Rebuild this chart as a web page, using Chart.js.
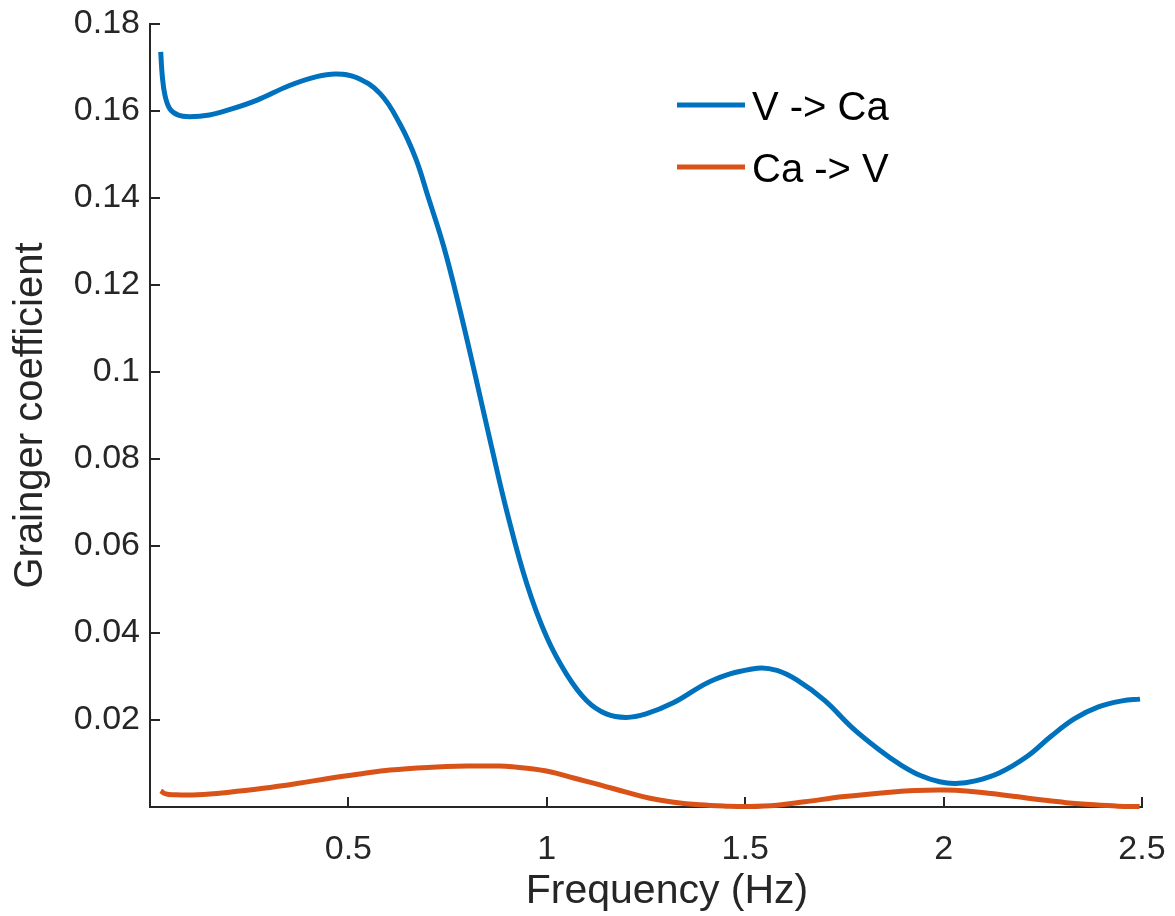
<!DOCTYPE html>
<html>
<head>
<meta charset="utf-8">
<script src="https://cdn.jsdelivr.net/npm/chart.js@4.4.1/dist/chart.umd.min.js"></script>
<style>
    html, body { margin: 0; padding: 0; background: #fff; }
    #wrap { width: 1175px; height: 916px; }
</style>
</head>
<body>
<div id="wrap"><canvas id="granger"></canvas></div>
<script>
// values
const freqVtoCa = [0.027, 0.031, 0.038, 0.05, 0.07, 0.1, 0.15, 0.2, 0.27, 0.35, 0.42, 0.47, 0.52, 0.58, 0.63, 0.67, 0.7, 0.74, 0.78, 0.82, 0.86, 0.9, 0.95, 1.0, 1.05, 1.1, 1.15, 1.2, 1.25, 1.32, 1.42, 1.53, 1.58, 1.63, 1.7, 1.77, 1.84, 1.89, 1.94, 1.99, 2.03, 2.08, 2.14, 2.21, 2.27, 2.33, 2.39, 2.45, 2.495];
const grangerVtoCa = [0.1736, 0.168, 0.1635, 0.1605, 0.1591, 0.1587, 0.1591, 0.1603, 0.1625, 0.1658, 0.1679, 0.1685, 0.1677, 0.164, 0.157, 0.149, 0.1405, 0.1289, 0.1147, 0.0991, 0.0831, 0.0677, 0.0512, 0.039, 0.0305, 0.0245, 0.0214, 0.0206, 0.0214, 0.024, 0.0292, 0.0319, 0.0314, 0.0292, 0.0245, 0.0182, 0.013, 0.0098, 0.0073, 0.0058, 0.0054, 0.006, 0.0078, 0.0116, 0.0162, 0.0203, 0.023, 0.0244, 0.0248];

const freqCatoV = [0.027, 0.04, 0.06, 0.12, 0.2, 0.285, 0.37, 0.453, 0.53, 0.605, 0.7, 0.8, 0.88, 0.95, 1.008, 1.07, 1.134, 1.2, 1.26, 1.32, 1.385, 1.45, 1.51, 1.58, 1.65, 1.75, 1.85, 1.93, 2.0, 2.057, 2.12, 2.183, 2.25, 2.309, 2.38, 2.44, 2.494];
const grangerCatoV = [0.0037, 0.003, 0.0028, 0.0028, 0.0034, 0.0043, 0.0054, 0.0066, 0.0076, 0.0085, 0.0091, 0.0094, 0.0094, 0.0089, 0.0081, 0.0066, 0.0051, 0.0034, 0.002, 0.0011, 0.0005, 0.0002, 0.0001, 0.0004, 0.0012, 0.0024, 0.0033, 0.0038, 0.0039, 0.0037, 0.0031, 0.0024, 0.0016, 0.001, 0.0005, 0.0002, 0.0001];

const seriesLabels = ["V -> Ca", "Ca -> V"];
const xTickValues = [0.5, 1, 1.5, 2, 2.5];
const yTickValues = [0.02, 0.04, 0.06, 0.08, 0.1, 0.12, 0.14, 0.16, 0.18];
const xTitle = "Frequency (Hz)";
const yTitle = "Grainger coefficient";

const FONT = '"Liberation Sans", Arial, Helvetica, sans-serif';
const AXIS_COLOR = "#262626";

function toPoints(xs, ys) {
    return xs.map((x, i) => ({ x: x, y: ys[i] }));
}

// inward tick marks like the original figure
const tickMarks = {
    id: "tickMarks",
    beforeDatasetsDraw(chart) {
        const { ctx, scales, chartArea } = chart;
        ctx.save();
        ctx.strokeStyle = AXIS_COLOR;
        ctx.lineWidth = 2;
        ctx.beginPath();
        for (const v of xTickValues) {
            const px = Math.round(scales.x.getPixelForValue(v));
            ctx.moveTo(px, chartArea.bottom);
            ctx.lineTo(px, chartArea.bottom - 10);
        }
        for (const v of yTickValues) {
            const py = Math.round(scales.y.getPixelForValue(v));
            ctx.moveTo(chartArea.left, py);
            ctx.lineTo(chartArea.left + 10, py);
        }
        ctx.stroke();

        // x axis title, sits a little right of the axes centre in the original
        ctx.fillStyle = AXIS_COLOR;
        ctx.font = "41px " + FONT;
        ctx.textAlign = "center";
        ctx.textBaseline = "alphabetic";
        ctx.fillText(xTitle, (chartArea.left + chartArea.right) / 2 + 21, 903);
        ctx.restore();
    }
};

// legend inside the axes, no frame
const insideLegend = {
    id: "insideLegend",
    afterDatasetsDraw(chart) {
        const { ctx } = chart;
        const rows = [120, 182];
        ctx.save();
        ctx.font = "40px " + FONT;
        ctx.textBaseline = "alphabetic";
        ctx.fillStyle = "#000";
        chart.data.datasets.forEach((ds, i) => {
            const y = rows[i];
            ctx.strokeStyle = ds.borderColor;
            ctx.lineWidth = 5;
            ctx.beginPath();
            ctx.moveTo(677, y - 15);
            ctx.lineTo(745, y - 15);
            ctx.stroke();
            ctx.fillText(ds.label, 752, y);
        });
        ctx.restore();
    }
};

const chart = new Chart(document.getElementById("granger"), {
    type: "line",
    data: {
        datasets: [{
            label: seriesLabels[0],
            data: toPoints(freqVtoCa, grangerVtoCa),
            borderColor: "#0072BD",
            borderWidth: 5,
            pointRadius: 0,
            tension: 0.4,
            clip: false
        }, {
            label: seriesLabels[1],
            data: toPoints(freqCatoV, grangerCatoV),
            borderColor: "#D95319",
            borderWidth: 5,
            pointRadius: 0,
            tension: 0.4,
            clip: false
        }]
    },
    options: {
        responsive: true,
        maintainAspectRatio: false,
        animation: false,
        layout: { padding: { top: 24, right: 33, left: 0, bottom: 0 } },
        plugins: {
            legend: { display: false },
            tooltip: { enabled: false }
        },
        scales: {
            x: {
                type: "linear",
                min: 0,
                max: 2.5,
                afterBuildTicks: (scale) => { scale.ticks = xTickValues.map((v) => ({ value: v })); },
                afterFit: (scale) => {
                    scale.height = 109;
                    scale.paddingLeft = 0;
                    scale.paddingRight = 0;
                },
                grid: { display: false, drawTicks: false },
                border: { display: true, color: AXIS_COLOR, width: 2 },
                ticks: {
                    color: AXIS_COLOR,
                    font: { family: FONT, size: 34 },
                    padding: 22,
                    maxRotation: 0,
                    callback: (v) => String(Number(v.toFixed(2)))
                },
                title: { display: false }
            },
            y: {
                min: 0,
                max: 0.18,
                afterBuildTicks: (scale) => { scale.ticks = yTickValues.map((v) => ({ value: v })); },
                afterFit: (scale) => {
                    scale.width = 150;
                    scale.paddingTop = 0;
                    scale.paddingBottom = 0;
                },
                grid: { display: false, drawTicks: false },
                border: { display: true, color: AXIS_COLOR, width: 2 },
                ticks: {
                    color: AXIS_COLOR,
                    font: { family: FONT, size: 34 },
                    padding: 10,
                    callback: (v) => String(Number(v.toFixed(2)))
                },
                title: {
                    display: true,
                    text: yTitle,
                    color: AXIS_COLOR,
                    font: { family: FONT, size: 40 },
                    padding: { top: 7, bottom: 0 }
                }
            }
        }
    },
    plugins: [tickMarks, insideLegend]
});
</script>
</body>
</html>
